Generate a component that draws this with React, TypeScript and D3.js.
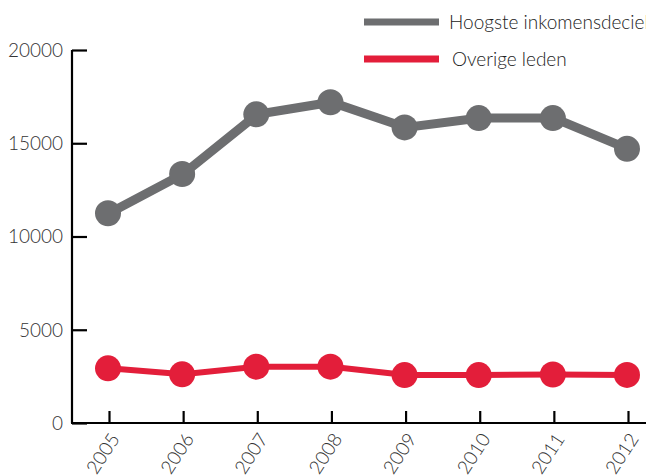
import {useEffect, useRef} from "react";
import * as d3 from "d3";

const years = ["2005", "2006", "2007", "2008", "2009", "2010", "2011", "2012"];
const topDecile = [11250, 13350, 16550, 17200, 15850, 16350, 16350, 14700];
const otherMembers = [2930, 2610, 3020, 3020, 2570, 2570, 2600, 2580];
const yTicks = [0, 5000, 10000, 15000, 20000];
const seriesNames = ["Hoogste inkomensdeciel", "Overige leden"];

const GREY = "#6d6e70";
const RED = "#e31e3a";
const FONT = "Lato, 'Open Sans', sans-serif";

const App = () => {
    const ref = useRef(null);

    useEffect(() => {
        const width = 646, height = 475;
        d3.select(ref.current).selectAll("*").remove();
        const svg = d3.select(ref.current).append("svg")
            .attr("width", width)
            .attr("height", height)
            .style("position", "absolute")
            .style("left", 0)
            .style("top", 0)
            .style("font-family", FONT);

        const x = d3.scalePoint()
            .domain(years)
            .range([109, 628]);
        const y = d3.scaleLinear()
            .domain([0, 20000])
            .range([423, 50]);

        // y axis, ticks pointing inward
        const yAxis = svg.append("g")
            .attr("transform", "translate(72,0)")
            .call(d3.axisRight(y).tickValues(yTicks).tickSize(15).tickFormat(() => ""));
        yAxis.select(".domain").attr("stroke", "#000").attr("stroke-width", 2.2)
            .attr("d", `M0,${y(20000)}V${y(0)}`);
        yAxis.selectAll(".tick line").attr("stroke", "#000").attr("stroke-width", 2.2);
        svg.append("g").selectAll("text")
            .data(yTicks)
            .join("text")
            .attr("x", 63)
            .attr("y", d => y(d))
            .attr("dy", "0.36em")
            .attr("text-anchor", "end")
            .attr("font-size", 19)
            .attr("font-weight", 300)
            .attr("fill", "#333")
            .text(d => d);

        // x axis, ticks pointing up
        const xAxis = svg.append("g")
            .attr("transform", `translate(0,${y(0)})`)
            .call(d3.axisTop(x).tickSize(12).tickFormat(() => ""));
        xAxis.select(".domain").attr("stroke", "#000").attr("stroke-width", 2.2)
            .attr("d", `M71,0H${width}`);
        xAxis.selectAll(".tick line").attr("stroke", "#000").attr("stroke-width", 2.2);
        svg.append("g").selectAll("text")
            .data(years)
            .join("text")
            .attr("transform", d => `translate(${x(d) + 6},${y(0) + 12}) rotate(-57)`)
            .attr("text-anchor", "end")
            .attr("dy", "0.35em")
            .attr("font-size", 19)
            .attr("font-weight", 300)
            .attr("fill", "#333")
            .text(d => d);

        const line = d3.line()
            .x((d, i) => x(years[i]))
            .y(d => y(d));

        const drawSeries = (data, color, lw, r) => {
            svg.append("path")
                .datum(data)
                .attr("fill", "none")
                .attr("stroke", color)
                .attr("stroke-width", lw)
                .attr("d", line);
            svg.append("g").selectAll("circle")
                .data(data)
                .join("circle")
                .attr("cx", (d, i) => x(years[i]) - 1)
                .attr("cy", d => y(d))
                .attr("r", r)
                .attr("fill", color);
        };
        drawSeries(topDecile, GREY, 9, 13);
        drawSeries(otherMembers, RED, 6, 13);

        // legend
        const legend = svg.append("g");
        [GREY, RED].forEach((c, i) => {
            const ly = 22 + i * 37;
            legend.append("line")
                .attr("x1", 364).attr("x2", 439)
                .attr("y1", ly).attr("y2", ly)
                .attr("stroke", c)
                .attr("stroke-width", 7);
            legend.append("text")
                .attr("x", 449 + i * 3)
                .attr("y", ly)
                .attr("dy", "0.36em")
                .attr("font-size", 19)
                .attr("font-weight", 300)
                .attr("fill", "#222")
                .text(seriesNames[i]);
        });
    }, []);

    return <div ref={ref}></div>
}
export default App
